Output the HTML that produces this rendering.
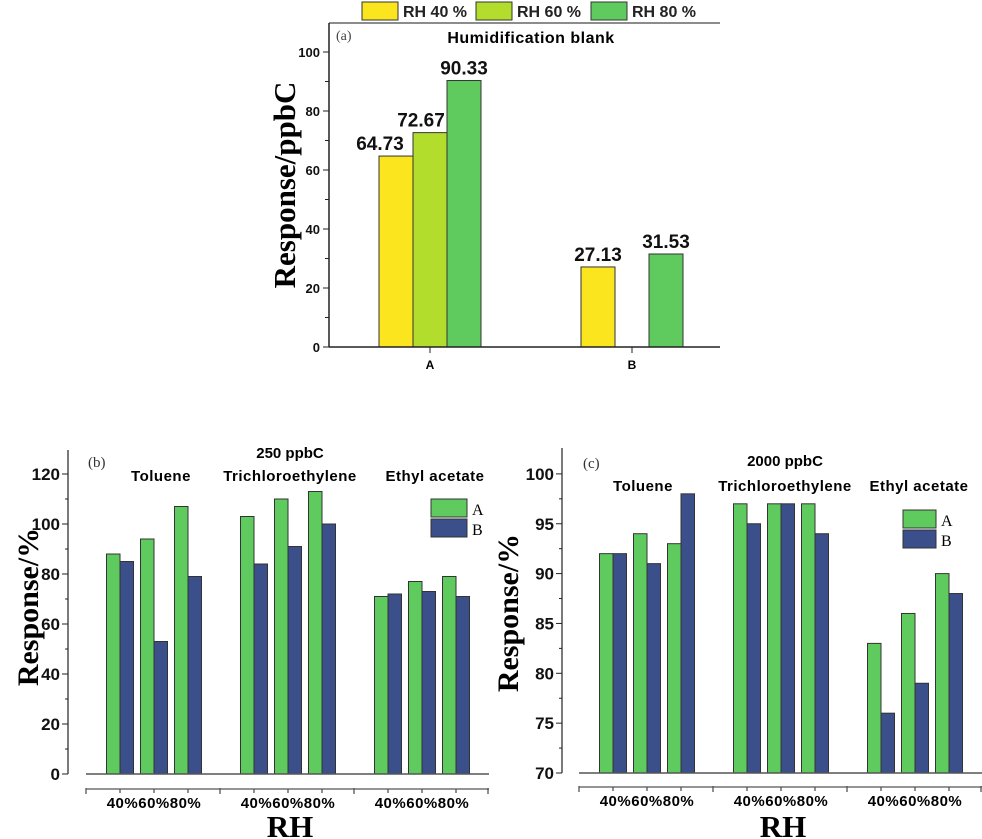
<!DOCTYPE html>
<html><head><meta charset="utf-8"><style>
body{margin:0;background:#fff}
svg{display:block;font-family:"Liberation Sans",Arial,sans-serif}
</style></head><body>
<svg id="svg" width="982" height="839" viewBox="0 0 982 839"></svg>
<script>
// Panel (a)
const aCategories=["A","B"];
const aSeriesNames=["RH 40 %","RH 60 %","RH 80 %"];
const a40=[64.73,27.13];
const a60=[72.67,null];
const a80=[90.33,31.53];
const aTicks=[0,20,40,60,80,100];
// Panel (b)
const compounds=["Toluene","Trichloroethylene","Ethyl acetate"];
const rhLabels=["40%","60%","80%"];
const bA=[[88,94,107],[103,110,113],[71,77,79]];
const bB=[[85,53,79],[84,91,100],[72,73,71]];
const bTicks=[0,20,40,60,80,100,120];
// Panel (c)
const cA=[[92,94,93],[97,97,97],[83,86,90]];
const cB=[[92,91,98],[95,97,94],[76,79,88]];
const cTicks=[70,75,80,85,90,95,100];

const NS="http://www.w3.org/2000/svg";
const svg=document.getElementById('svg');
function el(tag,attrs,parent,text){const e=document.createElementNS(NS,tag);for(const k in attrs)e.setAttribute(k,attrs[k]);if(text!==undefined)e.textContent=text;(parent||svg).appendChild(e);return e;}

const YEL="#fae51f",YG="#b3dd2d",GR="#5fcb5f",BL="#3b4f8a",EDGE="#333";

// ---------- Panel (a) ----------
const ga=el('g',{});


const aY=v=>347-v*2.95;
const aX=i=>430+i*202;
el('line',{x1:329,y1:23,x2:720,y2:23,stroke:"#666","stroke-width":1.5},ga);
el('line',{x1:329,y1:23,x2:329,y2:347,stroke:"#222","stroke-width":1.5},ga);
for(let v=0;v<=100;v+=10){const y=aY(v);const major=v%20===0;
 el('line',{x1:major?323:325,y1:y,x2:329,y2:y,stroke:"#222","stroke-width":1},ga);}
aTicks.forEach(v=>{const t=el('text',{x:320,y:aY(v)+5,"text-anchor":"end","font-size":13,"font-weight":"bold",fill:"#111"},ga,String(v));
 });
const aSeries=[a40,a60,a80],aCols=[YEL,YG,GR];
aCategories.forEach((c,i)=>{
 aSeries.forEach((s,j)=>{const v=s[i];if(v===null)return;
  const cx=aX(i)+(j-1)*34;
  const r=el('rect',{x:cx-17,y:aY(v),width:34,height:aY(0)-aY(v),fill:aCols[j],stroke:EDGE,"stroke-width":1},ga);
  
  const dx=(i===0&&j===0)?-16:(i===0&&j===1)?-9:0;
  const t=el('text',{x:cx+dx,y:aY(v)-6,"text-anchor":"middle","font-size":19,"font-weight":"bold",fill:"#111"},ga,v.toFixed(2));
  
 });
 el('line',{x1:aX(i),y1:347,x2:aX(i),y2:353,stroke:"#222"},ga);
 const t=el('text',{x:aX(i),y:369,"text-anchor":"middle","font-size":12,"font-weight":"bold"},ga,c);
 
});
el('line',{x1:329,y1:347,x2:720,y2:347,stroke:"#222","stroke-width":1.5},ga);
let t=el('text',{x:336,y:40,"font-size":14,"font-family":"Liberation Serif,serif",fill:"#444"},ga,"(a)");

t=el('text',{x:531,y:43,"text-anchor":"middle","font-size":16,"font-weight":"bold","letter-spacing":"0.5"},ga,"Humidification blank");

t=el('text',{transform:"translate(295,185) rotate(-90)","text-anchor":"middle","font-size":31,"font-weight":"bold","font-family":"Liberation Serif,serif"},ga,"Response/ppbC");

const legX=[362,476,591];
aSeriesNames.forEach((n,j)=>{
 const r=el('rect',{x:legX[j],y:2,width:36,height:18,fill:aCols[j],stroke:EDGE},ga);
 
 const tt=el('text',{x:legX[j]+41,y:17,"font-size":16,"font-weight":"bold",fill:"#222"},ga,n);
 
});

// ---------- Panels (b),(c) ----------
function panel(o){
 const g=el('g',{});
 
 
 const Y=v=>o.y0-(v-o.vmin)*o.ppu;
 const X=(gi,ri)=>o.start+34+gi*134+ri*34;
 el('line',{x1:o.ax,y1:o.top,x2:o.ax,y2:o.y0,stroke:"#222","stroke-width":1.2},g);
 const step=(o.ticks[1]-o.ticks[0])/2;
 for(let v=o.vmin;v<=o.ticks[o.ticks.length-1]+0.01;v+=step){const major=Math.abs((v-o.vmin)/(2*step)-Math.round((v-o.vmin)/(2*step)))<0.01;
  el('line',{x1:major?o.ax-6:o.ax-3,y1:Y(v),x2:o.ax,y2:Y(v),stroke:"#222"},g);}
 o.ticks.forEach(v=>{const t=el('text',{x:o.ax-8,y:Y(v)+6,"text-anchor":"end","font-size":17,"font-weight":"bold",fill:"#111"},g,String(v));
  });
 compounds.forEach((c,gi)=>{
  rhLabels.forEach((rh,ri)=>{const cx=X(gi,ri);
   const va=o.A[gi][ri],vb=o.B[gi][ri];
   let r=el('rect',{x:cx-13.5,y:Y(va),width:13.5,height:Y(o.vmin)-Y(va),fill:GR,stroke:EDGE},g);
   
   r=el('rect',{x:cx,y:Y(vb),width:13.5,height:Y(o.vmin)-Y(vb),fill:BL,stroke:EDGE},g);
   
   el('line',{x1:cx,y1:o.ax2,x2:cx,y2:o.ax2+4,stroke:"#222"},g);
  });
  const tl=el('text',{x:X(gi,1),y:o.ax2+19,"text-anchor":"middle","font-size":15,"font-weight":"bold","letter-spacing":"0.5"},g,rhLabels.join(""));
  
  const ct=el('text',{x:o.cx[gi],y:o.ctY,"text-anchor":"middle","font-size":15,"font-weight":"bold","letter-spacing":"0.5"},g,c);
  
 });
 for(let k=0;k<=3;k++){const x=o.start+k*134;el('line',{x1:x,y1:o.ax2-1,x2:x,y2:o.ax2+5,stroke:"#222"},g);}
 el('line',{x1:o.start,y1:o.y0,x2:o.start+403,y2:o.y0,stroke:"#555","stroke-width":1.5},g);
 el('line',{x1:o.start,y1:o.ax2,x2:o.start+403,y2:o.ax2,stroke:"#555","stroke-width":1.2},g);
 let t=el('text',{x:o.plX,y:o.plY,"font-size":15,"font-family":"Liberation Serif,serif",fill:"#333"},g,o.pl);
 
 t=el('text',{x:o.cx[1],y:o.titleY,"text-anchor":"middle","font-size":15,"font-weight":"bold"},g,o.title);
 
 t=el('text',{transform:`translate(${o.ylX},${o.ylY}) rotate(-90)`,"text-anchor":"middle","font-size":30,"font-weight":"bold","font-family":"Liberation Serif,serif"},g,"Response/%");
 
 t=el('text',{x:o.start+204,y:837,"text-anchor":"middle","font-size":31,"font-weight":"bold","font-family":"Liberation Serif,serif"},g,"RH");
 
 [["A",GR,0],["B",BL,1]].forEach(([n,col,k])=>{
  const r=el('rect',{x:o.lgX,y:o.lgY+k*o.lgH,width:o.lgW,height:o.lgH-2,fill:col,stroke:EDGE},g);
  
  const tt=el('text',{x:o.lgX+o.lgW+5,y:o.lgY+k*o.lgH+o.lgH-4,"font-size":16,"font-family":"Liberation Serif,serif"},g,n);
  
 });
}
panel({name:'panel-b',A:bA,B:bB,ticks:bTicks,vmin:0,ppu:2.5,y0:774,top:450,ax:68,start:86,ax2:789,
 cx:[161,290,435],ctY:481,pl:"(b)",plX:88,plY:467,title:"250 ppbC",titleY:458,ylX:38,ylY:607,
 lgX:431,lgY:499,lgW:36,lgH:20});
panel({name:'panel-c',A:cA,B:cB,ticks:cTicks,vmin:70,ppu:9.97,y0:773,top:448,ax:562,start:579,ax2:787,
 cx:[643,785,919],ctY:491,pl:"(c)",plX:583,plY:468,title:"2000 ppbC",titleY:466,ylX:518,ylY:613,
 lgX:903,lgY:510,lgW:33,lgH:20});
</script>
</body></html>
